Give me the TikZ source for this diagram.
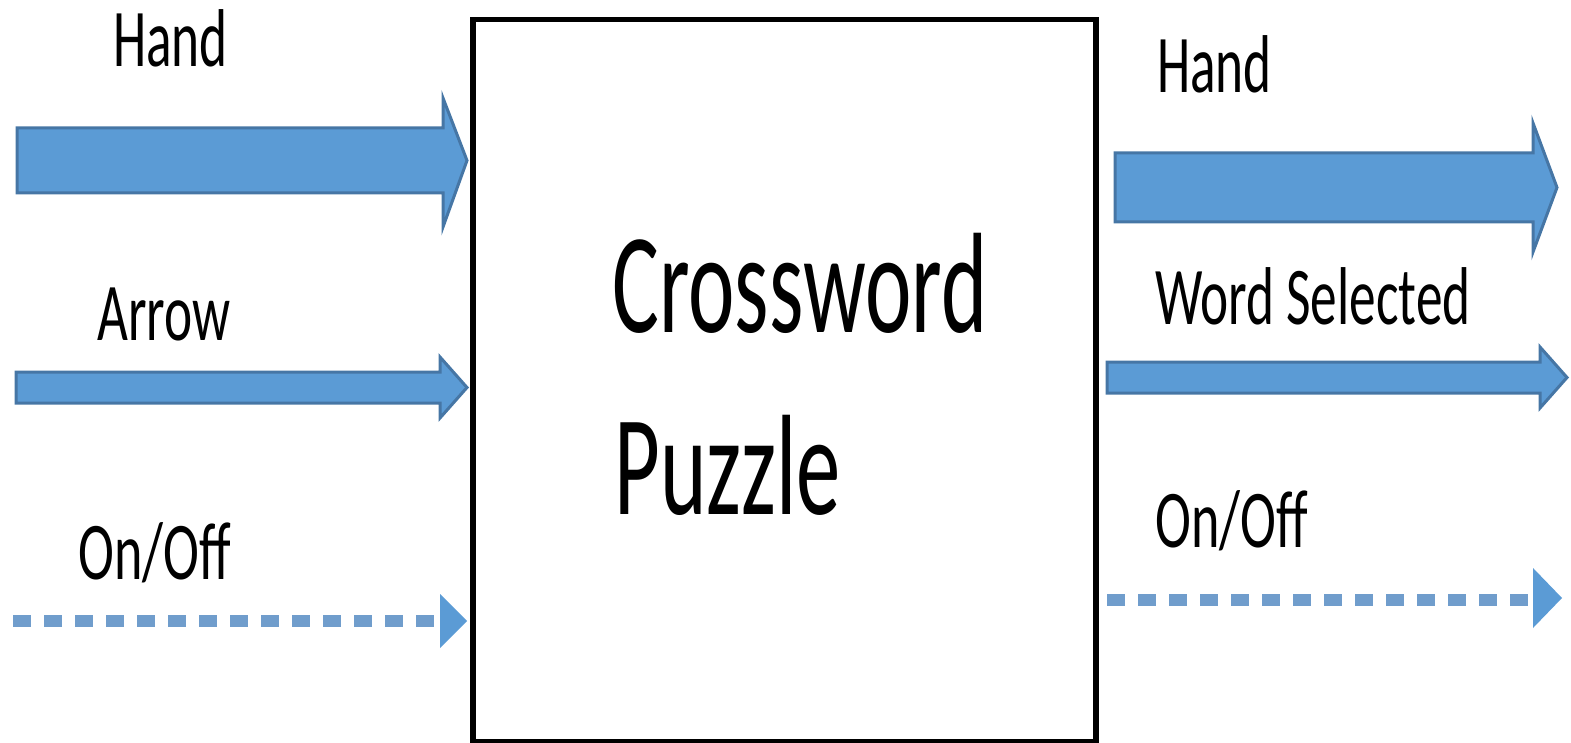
\documentclass[tikz,border=0pt]{standalone}
\usepackage{fontspec}
\setmainfont{Carlito}
\definecolor{arrfill}{RGB}{91,155,213}
\definecolor{arredge}{RGB}{70,118,165}
\definecolor{dashcol}{RGB}{112,157,204}
\begin{document}
\begin{tikzpicture}[x=1pt,y=-1pt,
  blockarrow/.style={fill=arrfill,draw=arredge,line width=3pt,line join=miter},
  dashline/.style={draw=dashcol,line width=12pt,dash pattern=on 18pt off 13pt},
  dashhead/.style={fill=arrfill,draw=none},
  lbl/.style={inner sep=0pt,anchor=base west,font=\fontsize{82}{82}\selectfont},
  big/.style={inner sep=0pt,anchor=base west,font=\fontsize{143}{143}\selectfont}]
\useasboundingbox (0,0) rectangle (1571,743);
% central box
\node[draw=black,line width=5.5pt,minimum width=623pt,minimum height=722pt,inner sep=0pt,anchor=north west] (box) at (470,17) {};
\node[big] (t1) at (612,332) {\scalebox{0.615}[1]{Crossword}};
\node[big] (t2) at (614,514) {\scalebox{0.62}[1]{Puzzle}};
% left labels
\node[lbl] (lh) at (113,67) {\scalebox{0.65}[1]{Hand}};
\node[lbl] (la) at (97,340) {\scalebox{0.65}[1]{Arrow}};
\node[lbl] (lo) at (78,579) {\scalebox{0.66}[1]{On/Off}};
% right labels
\node[lbl] (rh) at (1157,93) {\scalebox{0.65}[1]{Hand}};
\node[lbl] (rw) at (1155,324) {\scalebox{0.65}[1]{Word Selected}};
\node[lbl] (ro) at (1155,547) {\scalebox{0.66}[1]{On/Off}};
% left thick arrow
\draw[blockarrow] (17,128) -- (443,128) -- (443,98) -- (467,160.5) -- (443,227) -- (443,193) -- (17,193) -- cycle;
% left thin arrow
\draw[blockarrow] (16,372) -- (440,372) -- (440,357) -- (467,387.5) -- (440,418) -- (440,403) -- (16,403) -- cycle;
% left dashed
\coordinate (lds) at (13,621);
\coordinate (lde) at (438,621);
\draw[dashline] (lds) -- (lde);
\fill[dashhead] (440,594) -- (467,621) -- (440,648) -- cycle;
% right thick arrow
\draw[blockarrow] (1115,153) -- (1533,153) -- (1533,123) -- (1557,187.5) -- (1533,252) -- (1533,222) -- (1115,222) -- cycle;
% right thin arrow
\draw[blockarrow] (1107,362) -- (1540,362) -- (1540,347) -- (1567,377.5) -- (1540,408) -- (1540,393) -- (1107,393) -- cycle;
% right dashed
\coordinate (rds) at (1107,600);
\coordinate (rde) at (1531,600);
\draw[dashline] (rds) -- (rde);
\fill[dashhead] (1533,568) -- (1562,598) -- (1533,628) -- cycle;
\end{tikzpicture}
\end{document}
